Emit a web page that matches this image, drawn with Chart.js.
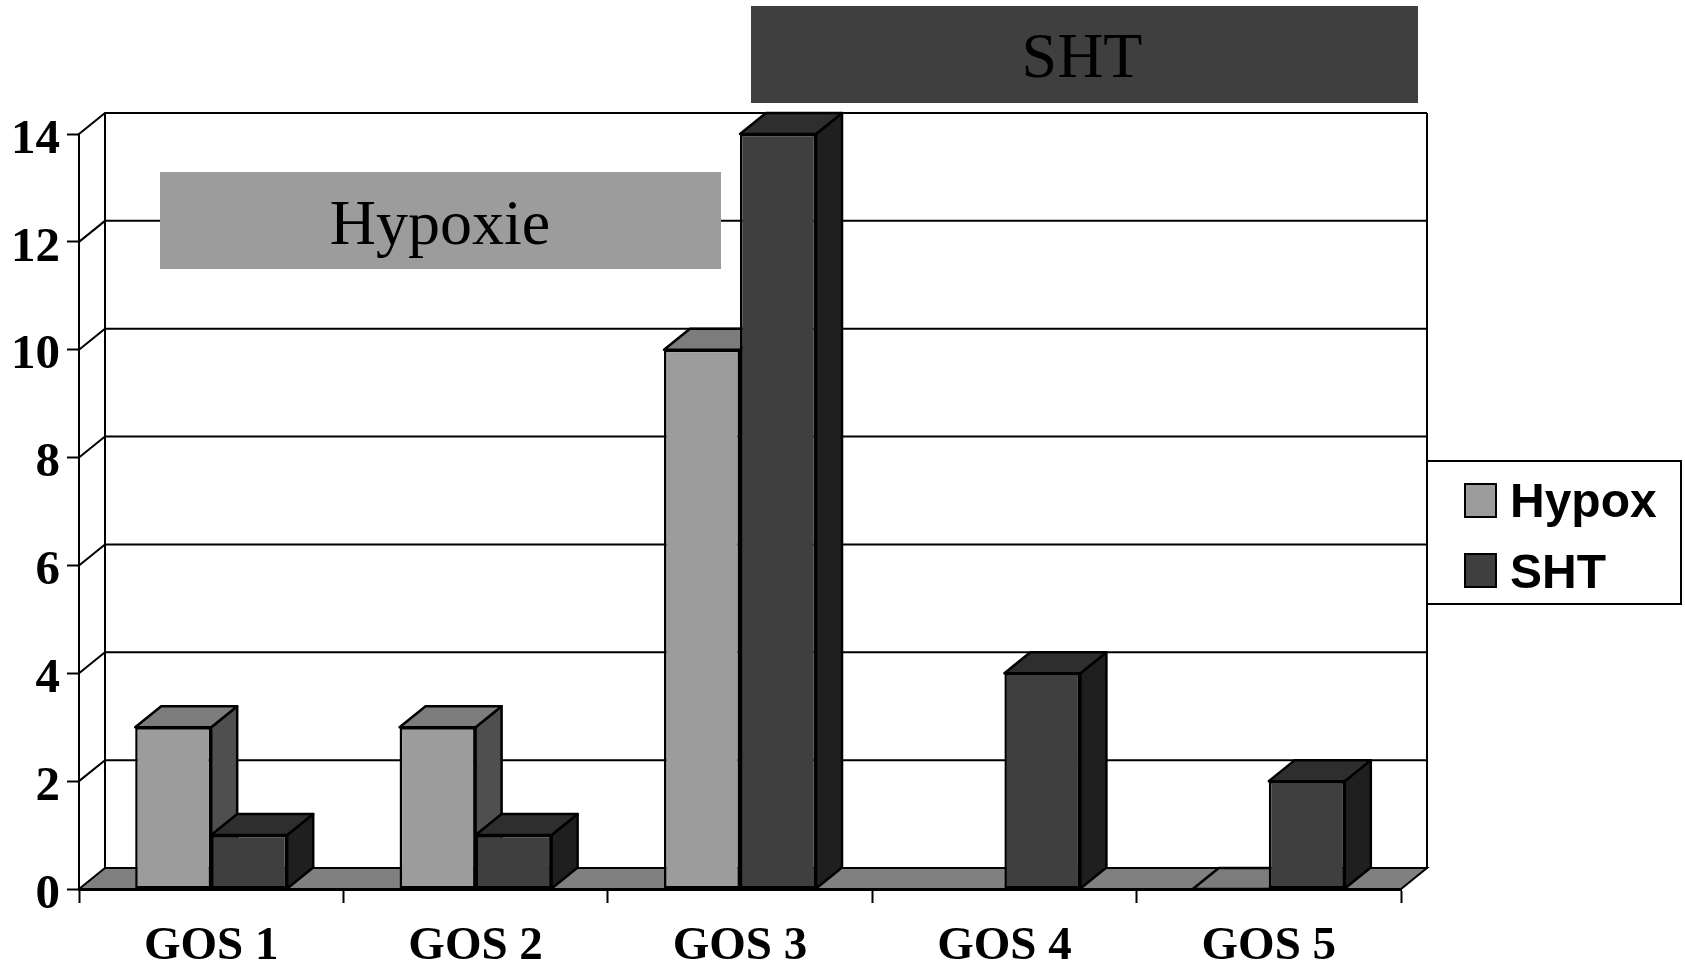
<!DOCTYPE html>
<html>
<head>
<meta charset="utf-8">
<title>GOS</title>
<script src="https://cdn.jsdelivr.net/npm/chart.js@4/dist/chart.umd.min.js"></script>
<style>
  html, body { margin: 0; padding: 0; background: #fff; }
  canvas { display: block; }
</style>
</head>
<body>
<canvas id="gos-chart" width="1685" height="966"></canvas>
<script>
const categories = ['GOS 1', 'GOS 2', 'GOS 3', 'GOS 4', 'GOS 5'];
const hypoxValues = [3, 3, 10, null, 0]; // GOS 4 has no entry, GOS 5 is a real zero
const shtValues = [1, 1, 14, 4, 2];
const yTicks = [0, 2, 4, 6, 8, 10, 12, 14];

const DEPTH_X = 26;  // horizontal offset of the back of the box
const DEPTH_Y = 21;  // vertical offset of the back of the box
const LINE = 2;
const BAR_LINE = 2.5;

const faces = {
    Hypox: { front: '#9c9c9c', side: '#4f4f4f', top: '#7c7c7c' },
    SHT: { front: '#3f3f3f', side: '#1f1f1f', top: '#2e2e2e' }
};

function poly(ctx, pts, fill) {
    ctx.beginPath();
    pts.forEach((p, i) => i ? ctx.lineTo(p[0], p[1]) : ctx.moveTo(p[0], p[1]));
    ctx.closePath();
    if (fill) {
        ctx.fillStyle = fill;
        ctx.fill();
    }
    ctx.stroke();
}

// Back wall, floor, slanted lines, then the side and top of every bar.
// Chart.js paints the front faces afterwards.
const box3d = {
    id: 'box3d',
    beforeDatasetsDraw(chart) {
        const { ctx, chartArea: a, scales: { y } } = chart;
        ctx.save();
        ctx.strokeStyle = '#000';
        ctx.lineWidth = LINE;
        poly(ctx, [[a.left, a.bottom], [a.left + DEPTH_X, a.bottom - DEPTH_Y], [a.right + DEPTH_X, a.bottom - DEPTH_Y], [a.right, a.bottom]], '#808080');
        yTicks.slice(1).forEach(v => {
            const py = y.getPixelForValue(v);
            ctx.beginPath();
            ctx.moveTo(a.left, py);
            ctx.lineTo(a.left + DEPTH_X, py - DEPTH_Y);
            ctx.lineTo(a.right + DEPTH_X, py - DEPTH_Y);
            ctx.stroke();
        });
        ctx.beginPath();
        ctx.moveTo(a.left + DEPTH_X, a.top - DEPTH_Y);
        ctx.lineTo(a.left + DEPTH_X, a.bottom - DEPTH_Y);
        ctx.moveTo(a.right + DEPTH_X, a.top - DEPTH_Y);
        ctx.lineTo(a.right + DEPTH_X, a.bottom - DEPTH_Y);
        ctx.stroke();

        ctx.lineWidth = BAR_LINE;
        ctx.lineJoin = 'round';
        chart.data.datasets.forEach((ds, d) => {
            const colors = faces[ds.label];
            chart.getDatasetMeta(d).data.forEach((bar, i) => {
                if (ds.data[i] === null) return;
                const left = bar.x - bar.width / 2;
                const right = bar.x + bar.width / 2;
                poly(ctx, [[right, bar.base], [right, bar.y], [right + DEPTH_X, bar.y - DEPTH_Y], [right + DEPTH_X, bar.base - DEPTH_Y]], colors.side);
                poly(ctx, [[left, bar.y], [left + DEPTH_X, bar.y - DEPTH_Y], [right + DEPTH_X, bar.y - DEPTH_Y], [right, bar.y]], colors.top);
            });
        });
        ctx.restore();
    }
};

// Caption boxes and the legend, on top of the plot
const overlays = {
    id: 'overlays',
    afterDraw(chart) {
        const { ctx } = chart;
        const datasets = chart.data.datasets;
        ctx.save();
        ctx.fillStyle = faces.Hypox.front;
        ctx.fillRect(160, 172, 561, 97);
        ctx.fillStyle = faces.SHT.front;
        ctx.fillRect(751, 6, 667, 97);

        ctx.fillStyle = '#000';
        ctx.textAlign = 'center';
        ctx.textBaseline = 'alphabetic';
        ctx.font = '64px "Liberation Serif"';
        ctx.fillText('Hypoxie', 440, 244);
        ctx.fillText('SHT', 1082, 77);

        ctx.strokeStyle = '#000';
        ctx.lineWidth = LINE;
        ctx.fillStyle = '#fff';
        ctx.fillRect(1427, 461, 254, 143);
        ctx.strokeRect(1427, 461, 254, 143);

        ctx.textAlign = 'left';
        ctx.font = 'bold 48px "Liberation Sans"';
        [[484, 517], [554, 588]].forEach((row, i) => {
            ctx.fillStyle = faces[datasets[i].label].front;
            ctx.fillRect(1465, row[0], 31, 33);
            ctx.strokeRect(1465, row[0], 31, 33);
            ctx.fillStyle = '#000';
            ctx.fillText(datasets[i].label, 1510, row[1]);
        });
        ctx.restore();
    }
};

new Chart(document.getElementById('gos-chart'), {
    type: 'bar',
    data: {
        labels: categories,
        datasets: [
            { label: 'Hypox', data: hypoxValues, backgroundColor: faces.Hypox.front },
            { label: 'SHT', data: shtValues, backgroundColor: faces.SHT.front }
        ]
    },
    options: {
        responsive: false,
        animation: false,
        layout: { padding: { top: 134, right: 284, left: 0, bottom: 0 } },
        datasets: {
            bar: {
                barPercentage: 1,
                categoryPercentage: 0.575,
                borderColor: '#000',
                borderWidth: c => (c.raw > 0 ? BAR_LINE : 0),
                borderSkipped: false
            }
        },
        scales: {
            x: {
                afterFit: axis => { axis.height = 77; },
                grid: { drawOnChartArea: false, tickLength: 14, tickColor: '#000', tickWidth: LINE },
                border: { display: true, color: '#000', width: 3, z: 1 },
                ticks: {
                    color: '#000',
                    padding: 16,
                    maxRotation: 0,
                    font: { family: 'Liberation Serif', weight: 'bold', size: 47 }
                }
            },
            y: {
                min: 0,
                max: 14,
                afterFit: axis => { axis.width = 79; },
                afterBuildTicks: axis => { axis.ticks = yTicks.map(value => ({ value })); },
                grid: { drawOnChartArea: false, tickLength: 12, tickColor: '#000', tickWidth: LINE },
                border: { display: true, color: '#000', width: LINE },
                ticks: {
                    color: '#000',
                    padding: 7,
                    labelOffset: 6,
                    font: { family: 'Liberation Serif', weight: 'bold', size: 49 }
                }
            }
        },
        plugins: {
            legend: { display: false },
            title: { display: false },
            tooltip: { enabled: false }
        }
    },
    plugins: [box3d, overlays]
});
</script>
</body>
</html>
